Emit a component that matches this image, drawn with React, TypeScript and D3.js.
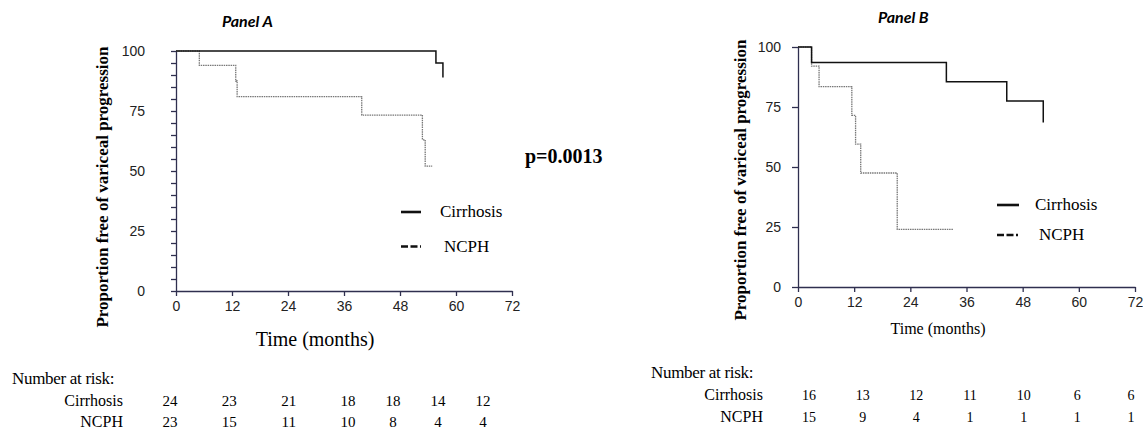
import React, { useEffect, useRef } from 'react';
import * as d3 from 'd3';

// Panel A - Kaplan-Meier steps (months, % free of progression)
const timesCirrA = [0, 55.7, 57.2];
const survCirrA = [100, 95, 89];
const timesNcphA = [0, 5, 12.8, 13.1, 39.8, 52.8, 53.4, 54.9];
const survNcphA = [100, 94, 87.5, 81, 73.3, 63, 52, 52];

// Panel B
const timesCirrB = [0, 2.9, 31.7, 44.6, 52.4];
const survCirrB = [100, 93.5, 85.5, 77.5, 68.5];
const timesNcphB = [0, 2.9, 4.5, 11.5, 12.3, 13.4, 21.2, 33.2];
const survNcphB = [100, 92, 83.5, 71.5, 59.5, 47.5, 24, 24];

const monthTicks = [0, 12, 24, 36, 48, 60, 72];
const yTicks = [0, 25, 50, 75, 100];
const groups = ['Cirrhosis', 'NCPH'];

// number at risk
const riskCirrA = [24, 23, 21, 18, 18, 14, 12];
const riskNcphA = [23, 15, 11, 10, 8, 4, 4];
const riskCirrB = [16, 13, 12, 11, 10, 6, 6];
const riskNcphB = [15, 9, 4, 1, 1, 1, 1];

const pValue = 'p=0.0013';

const serif = "'Liberation Serif', 'Times New Roman', serif";
const sans = "'Liberation Sans', Arial, sans-serif";
const axisColor = '#2f2f4f';

export default function App() {
  const ref = useRef(null);

  useEffect(() => {
    document.body.style.margin = '0';
    const svg = d3.select(ref.current);
    svg.selectAll('*').remove();

    const drawPanel = (cfg) => {
      const x = d3.scaleLinear().domain([0, 72]).range(cfg.xRange);
      const y = d3.scaleLinear().domain([0, 100]).range(cfg.yRange);

      const yAxis = d3.axisLeft(y)
        .tickValues(cfg.minor ? d3.range(0, 101, 5) : yTicks)
        .tickFormat(d => (d % 25 === 0 ? String(d) : ''))
        .tickSize(cfg.yTickLen)
        .tickSizeOuter(0)
        .tickPadding(cfg.yPad);

      const gy = svg.append('g')
        .attr('transform', `translate(${cfg.xRange[0]},0)`)
        .call(yAxis);
      gy.selectAll('path, line').attr('stroke', axisColor).attr('stroke-width', 1.3);
      gy.selectAll('text').attr('font-family', sans).attr('font-size', 14).attr('fill', '#222');

      const xAxis = d3.axisBottom(x)
        .tickValues(monthTicks)
        .tickSize(5)
        .tickSizeOuter(0)
        .tickPadding(cfg.xPad);

      const gx = svg.append('g')
        .attr('transform', `translate(0,${cfg.yRange[0]})`)
        .call(xAxis);
      gx.selectAll('path, line').attr('stroke', axisColor).attr('stroke-width', 1.3);
      gx.selectAll('text').attr('font-family', sans).attr('font-size', 14).attr('fill', '#222');

      const line = d3.line()
        .x(d => x(d[0]))
        .y(d => y(d[1]))
        .curve(d3.curveStepAfter);

      svg.append('path')
        .datum(d3.zip(cfg.tNcph, cfg.sNcph))
        .attr('d', line)
        .attr('fill', 'none')
        .attr('stroke', '#777')
        .attr('stroke-width', 1.3)
        .attr('stroke-dasharray', '1.5 0.8');

      svg.append('path')
        .datum(d3.zip(cfg.tCirr, cfg.sCirr))
        .attr('d', line)
        .attr('fill', 'none')
        .attr('stroke', '#111')
        .attr('stroke-width', 1.5);

      // title
      svg.append('text')
        .attr('x', cfg.title[0]).attr('y', cfg.title[1])
        .attr('font-family', "Lato, 'Open Sans', sans-serif")
        .attr('font-weight', 'bold').attr('font-style', 'italic')
        .attr('font-size', 16)
        .text(cfg.titleText);

      // y title
      svg.append('text')
        .attr('transform', `translate(${cfg.yTitle[0]},${cfg.yTitle[1]}) rotate(-90)`)
        .attr('text-anchor', 'middle')
        .attr('font-family', serif).attr('font-weight', 'bold')
        .attr('font-size', 17)
        .text('Proportion free of variceal progression');

      // x title
      svg.append('text')
        .attr('x', cfg.xTitle[0]).attr('y', cfg.xTitle[1])
        .attr('text-anchor', 'middle')
        .attr('font-family', serif)
        .attr('font-size', cfg.xTitleSize)
        .text('Time (months)');

      // legend
      const leg = svg.append('g');
      groups.forEach((g, i) => {
        const ly = cfg.legend[1] + i * cfg.legendGap;
        leg.append('line')
          .attr('x1', cfg.legend[0]).attr('x2', cfg.legend[0] + cfg.legendLen)
          .attr('y1', ly).attr('y2', ly)
          .attr('stroke', '#111').attr('stroke-width', 2.6)
          .attr('stroke-dasharray', i === 0 ? null : '7 2.5 7 2.5 2');
        leg.append('text')
          .attr('x', cfg.legend[0] + cfg.legendText + (i === 1 ? 4 : 0))
          .attr('y', ly + 5)
          .attr('font-family', serif).attr('font-size', 17)
          .text(g);
      });

      // number at risk
      const col = d3.scaleLinear().domain(cfg.colDomain).range(cfg.colRange);
      svg.append('text')
        .attr('x', cfg.risk[0]).attr('y', cfg.risk[1])
        .attr('font-family', serif).attr('font-size', 17)
        .attr('letter-spacing', -0.3)
        .text('Number at risk:');
      [cfg.rCirr, cfg.rNcph].forEach((row, i) => {
        const ry = cfg.riskRows[i];
        svg.append('text')
          .attr('x', cfg.riskLabelX).attr('y', ry)
          .attr('text-anchor', 'end')
          .attr('font-family', serif).attr('font-size', 16)
          .text(groups[i]);
        svg.append('g').selectAll('text')
          .data(row)
          .join('text')
          .attr('x', (d, j) => col(monthTicks[j]))
          .attr('y', ry)
          .attr('text-anchor', 'middle')
          .attr('font-family', serif).attr('font-size', cfg.riskSize)
          .text(d => d);
      });
    };

    drawPanel({
      xRange: [176, 512], yRange: [291, 51], minor: true,
      yTickLen: 5, yPad: 26, xPad: 5,
      tCirr: timesCirrA, sCirr: survCirrA, tNcph: timesNcphA, sNcph: survNcphA,
      title: [222, 27], titleText: 'Panel A',
      yTitle: [108, 187], xTitle: [315, 346], xTitleSize: 20,
      legend: [401, 212], legendGap: 34.5, legendLen: 20, legendText: 39,
      risk: [12, 384], riskRows: [406, 427], riskLabelX: 123, riskSize: 15,
      colDomain: [0, 36, 72], colRange: [170, 348, 483],
      rCirr: riskCirrA, rNcph: riskNcphA,
    });

    drawPanel({
      xRange: [798, 1135], yRange: [287, 47], minor: false,
      yTickLen: 6, yPad: 11, xPad: 5,
      tCirr: timesCirrB, sCirr: survCirrB, tNcph: timesNcphB, sNcph: survNcphB,
      title: [878, 23], titleText: 'Panel B',
      yTitle: [746, 180], xTitle: [938, 334], xTitleSize: 16,
      legend: [997, 205], legendGap: 30, legendLen: 22, legendText: 38,
      risk: [651, 378], riskRows: [400, 422], riskLabelX: 763, riskSize: 14,
      colDomain: [0, 72], colRange: [809, 1131],
      rCirr: riskCirrB, rNcph: riskNcphB,
    });

    svg.append('text')
      .attr('x', 525).attr('y', 163)
      .attr('font-family', serif).attr('font-weight', 'bold')
      .attr('font-size', 20)
      .text(pValue);
  }, []);

  return (
    <svg ref={ref} width={1143} height={430} style={{ display: 'block', background: '#fff' }} />
  );
}
